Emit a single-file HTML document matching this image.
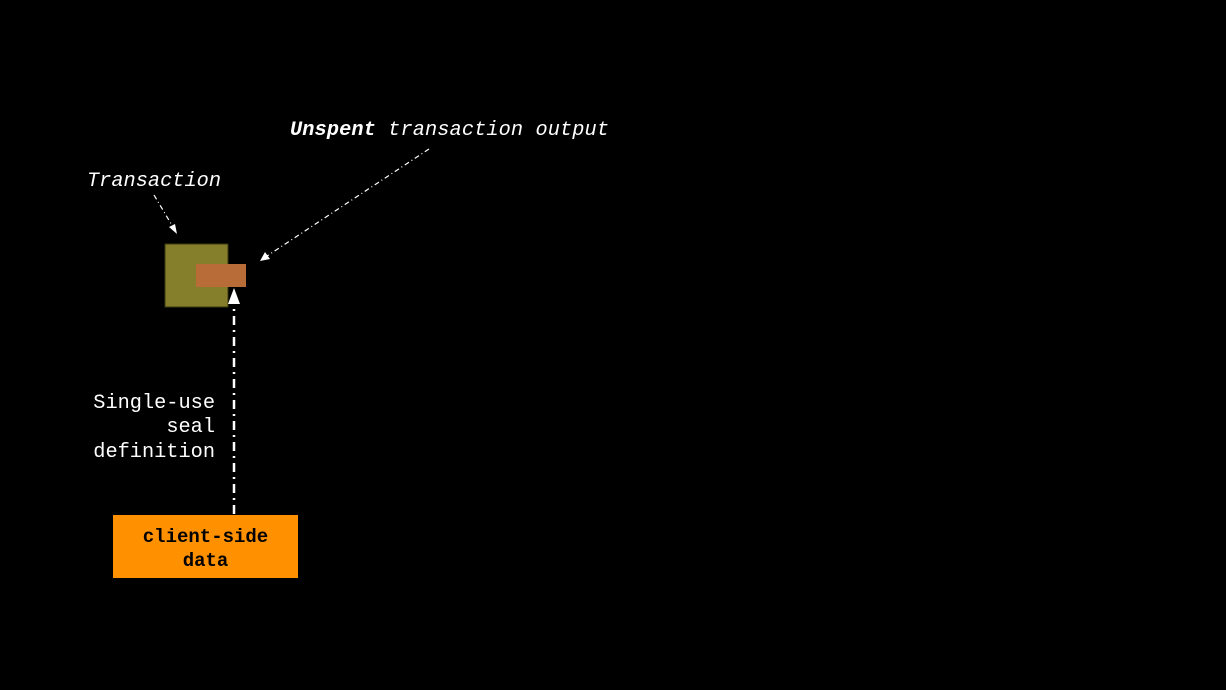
<!DOCTYPE html>
<html><head><style>
html,body{margin:0;padding:0;background:#000;}
body{width:1226px;height:690px;overflow:hidden;position:relative;}
svg{position:absolute;left:0;top:0;}
</style></head><body>
<svg width="1226" height="690" viewBox="0 0 1226 690" font-family="'Liberation Mono', 'DejaVu Sans Mono', monospace">
<rect x="0" y="0" width="1226" height="690" fill="#000"/>
<rect x="165" y="244" width="63" height="63" fill="#857f2b" stroke="#3a3810" stroke-width="1"/>
<rect x="196" y="264" width="50" height="23" fill="#b86c37"/>
<rect x="113" y="515" width="185" height="63" fill="#ff9100"/>
<text x="205.5" y="542" text-anchor="middle" font-size="19" font-weight="bold" fill="#000">client-side</text>
<text x="205.5" y="566" text-anchor="middle" font-size="19" font-weight="bold" fill="#000">data</text>
<line x1="234" y1="514" x2="234" y2="304" stroke="#fff" stroke-width="2.5" stroke-dasharray="9 5 2 5"/>
<polygon points="234,288 228,304 240,304" fill="#fff"/>
<text x="215" y="408" text-anchor="end" font-size="20.3" fill="#fff">Single-use</text>
<text x="215" y="432" text-anchor="end" font-size="20.3" fill="#fff">seal</text>
<text x="215" y="457" text-anchor="end" font-size="20.3" fill="#fff">definition</text>
<text x="87" y="186" font-size="20.3" font-style="italic" fill="#fff" textLength="134" lengthAdjust="spacing">Transaction</text>
<line x1="154" y1="195" x2="173" y2="227" stroke="#fff" stroke-width="1.2" stroke-dasharray="5 3 1 3"/>
<polygon points="177,234 169,227 175,224" fill="#fff"/>
<text x="290" y="135" font-size="20.3" fill="#fff" textLength="319" lengthAdjust="spacing"><tspan font-weight="bold" font-style="italic">Unspent</tspan><tspan font-style="italic"> transaction output</tspan></text>
<line x1="429" y1="149" x2="267" y2="256" stroke="#fff" stroke-width="1.2" stroke-dasharray="5 3 1 3"/>
<polygon points="260,261 265,252 270,259" fill="#fff"/>
</svg>
</body></html>
